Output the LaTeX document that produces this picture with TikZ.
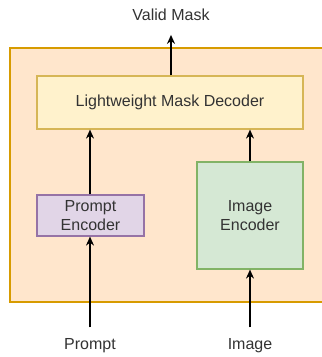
\documentclass[tikz,border=0pt]{standalone}
\usepackage{fontspec}
\setmainfont{Liberation Sans}
\usepackage{xcolor}
\usetikzlibrary{arrows.meta,positioning}

\definecolor{framefill}{HTML}{FFE6CC}
\definecolor{frameline}{HTML}{D79B00}
\definecolor{decfill}{HTML}{FFF2CC}
\definecolor{decline}{HTML}{D6B656}
\definecolor{prmfill}{HTML}{E1D5E7}
\definecolor{prmline}{HTML}{9673A6}
\definecolor{imgfill}{HTML}{D5E8D4}
\definecolor{imgline}{HTML}{82B366}
\definecolor{txt}{HTML}{333333}

\begin{document}
\begin{tikzpicture}[x=1pt, y=-1pt,
  box/.style={draw=#1line, fill=#1fill, line width=1.2pt, inner sep=0pt,
              align=center, text=txt, font=\fontsize{16}{19}\selectfont},
  arr/.style={-{Stealth[length=9pt, width=8pt]}, line width=1.4pt},
  lbl/.style={text=txt, font=\fontsize{16}{19}\selectfont, anchor=base,
              text height=12pt, text depth=4pt, inner sep=10pt},
]
\useasboundingbox (0,0) rectangle (322,357);
% Frame (runs past the right edge)
\node[box=frame, minimum width=340pt, minimum height=254pt] (model) at (180,175) {};
% Blocks
\node[box=dec, minimum width=266pt, minimum height=53pt] (dec) at (170,102.5) {Lightweight Mask Decoder};
\node[box=prm, minimum width=107pt, minimum height=41pt] (penc) at (90.5,215.5) {Prompt\\Encoder};
\node[box=img, minimum width=106pt, minimum height=107pt] (ienc) at (250,215.5) {Image\\Encoder};
% Inputs and output
\node[lbl] (mask) at (171,20.7) {Valid Mask};
\node[lbl] (prompt) at (90,349.5) {Prompt};
\node[lbl] (image) at (250,349.5) {Image};
% Arrows
\draw[arr] (prompt) -- (prompt |- penc.south);
\draw[arr] (image) -- (image |- ienc.south);
\draw[arr] (prompt |- penc.north) -- (prompt |- dec.south);
\draw[arr] (ienc.north) -- (ienc.north |- dec.south);
\draw[arr] (mask |- dec.north) -- (mask);
\end{tikzpicture}
\end{document}
